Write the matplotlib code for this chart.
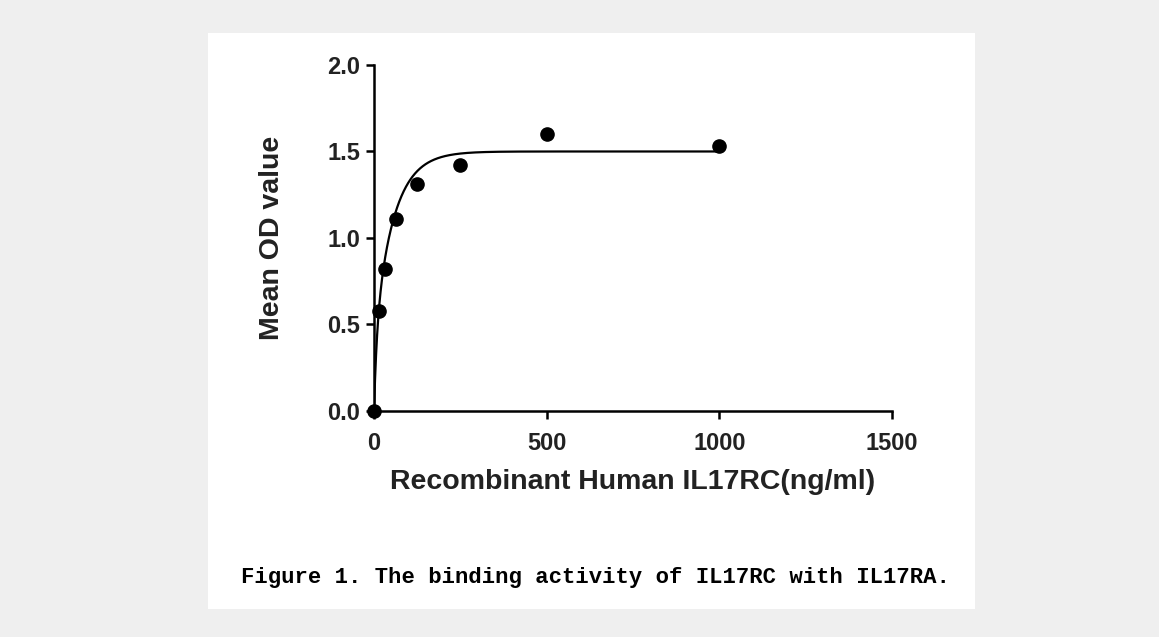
import numpy as np
import matplotlib.pyplot as plt
from matplotlib.patches import Rectangle

# data
conc = [0, 15.625, 31.25, 62.5, 125, 250, 500, 1000]
mean_od = [0.0, 0.58, 0.82, 1.11, 1.31, 1.42, 1.60, 1.53]

# two-phase saturation fit (parameters estimated from the drawn curve)
fit_top = 1.50
fit_frac_fast = 0.28
fit_k_fast = 0.12
fit_k_slow = 0.018

x_ticks = [0, 500, 1000, 1500]
y_ticks = [0.0, 0.5, 1.0, 1.5, 2.0]

fig = plt.figure(figsize=(11.59, 6.37), dpi=100)
fig.patch.set_facecolor("#efefef")
fig.patches.append(Rectangle((0.1795, 0.044), 0.6618, 0.904, transform=fig.transFigure,
                             facecolor="white", edgecolor="none", zorder=-5))

ax = fig.add_axes([0.3227, 0.3548, 0.4469, 0.5432])
ax.set_facecolor("none")

xs = np.linspace(0, 1000, 2000)
ys = fit_top * (fit_frac_fast * (1 - np.exp(-fit_k_fast * xs))
                + (1 - fit_frac_fast) * (1 - np.exp(-fit_k_slow * xs)))
ax.plot(xs, ys, color="black", lw=1.6, zorder=2)
ax.plot(conc, mean_od, "o", color="black", ms=9.5, clip_on=False, zorder=3)

ax.set_xlim(0, 1500)
ax.set_ylim(0, 2.0)
ax.set_xticks(x_ticks)
ax.set_yticks(y_ticks)
ax.set_yticklabels([f"{v:.1f}" for v in y_ticks])

for s in ["top", "right"]:
    ax.spines[s].set_visible(False)
for s in ["left", "bottom"]:
    ax.spines[s].set_linewidth(1.8)
ax.tick_params(width=1.8, length=6, direction="out")
ax.tick_params(axis="x", pad=9)
ax.tick_params(axis="y", pad=4)

font = "Liberation Sans"
for lab in ax.get_xticklabels() + ax.get_yticklabels():
    lab.set_fontfamily(font)
    lab.set_fontweight("bold")
    lab.set_fontsize(17)
    lab.set_color("#222222")

ax.set_xlabel("Recombinant Human IL17RC(ng/ml)", fontfamily=font, fontweight="bold",
              fontsize=20.5, color="#222222", labelpad=10)
ax.set_ylabel("Mean OD value", fontfamily=font, fontweight="bold",
              fontsize=20.5, color="#222222", labelpad=30)

fig.text(0.5135, 0.093, "Figure 1. The binding activity of IL17RC with IL17RA.",
         ha="center", va="center", fontfamily="Liberation Mono", fontweight="bold",
         fontsize=16, color="black")

fig.savefig("out.png", dpi=100, facecolor=fig.get_facecolor())
